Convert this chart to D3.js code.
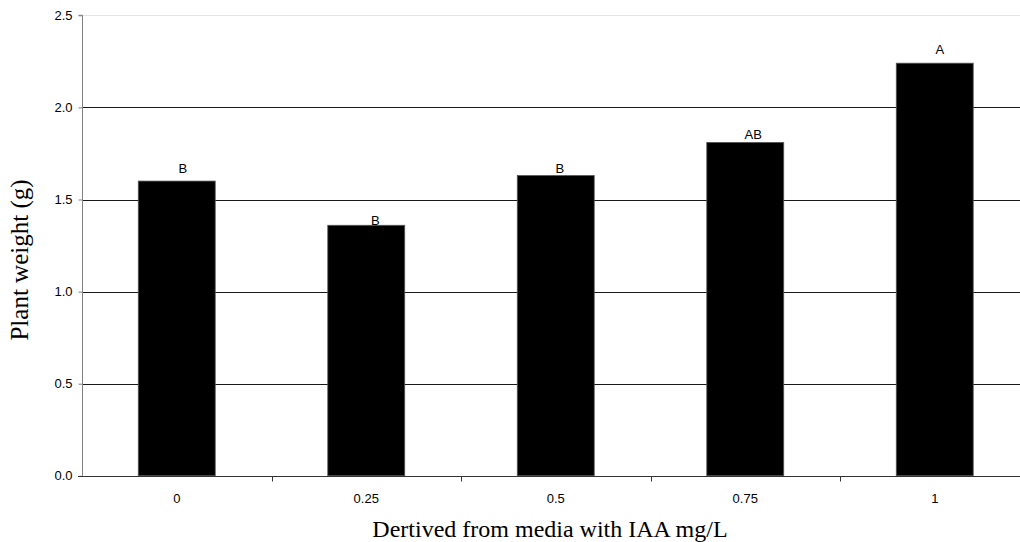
<!DOCTYPE html>
<html>
<head>
<meta charset="utf-8">
<script src="https://cdn.jsdelivr.net/npm/d3@7"></script>
<style>
  html, body { margin: 0; padding: 0; background: #fff; }
  svg { display: block; }
</style>
</head>
<body>
<svg id="chart" width="1020" height="542"></svg>
<script>
// ---- data ----
const categories = ["0", "0.25", "0.5", "0.75", "1"];
const plantWeight = [1.60, 1.36, 1.63, 1.81, 2.24];
const letters = ["B", "B", "B", "AB", "A"];
const yTicks = [0, 0.5, 1.0, 1.5, 2.0, 2.5];
const yTickLabels = ["0.0", "0.5", "1.0", "1.5", "2.0", "2.5"];
const xTitle = "Dertived from media with IAA mg/L";
const yTitle = "Plant weight (g)";

// ---- layout (not data) ----
const letterNudge = [[6, -8], [9, 0], [4, -3], [8, -3], [5, -9]];

(function () {
const svg = d3.select("#chart");
const W = 1020;
const plotLeft = 82, plotTop = 15.3, plotBottom = 475.8;
const sans = "'Liberation Sans', Arial, sans-serif";
const serif = "'Liberation Serif', 'Times New Roman', serif";

const y = d3.scaleLinear().domain([0, 2.5]).range([plotBottom, plotTop]);
const x = d3.scaleBand().domain(categories).range([plotLeft, 1029.5])
  .paddingInner(0.594).paddingOuter(0.297);

// top border line (light)
svg.append("line")
  .attr("x1", plotLeft).attr("x2", W)
  .attr("y1", Math.round(y(2.5)) + 0.5).attr("y2", Math.round(y(2.5)) + 0.5)
  .attr("stroke", "#e4e4e4").attr("stroke-width", 1);

// gridlines
svg.append("g").selectAll("line")
  .data(yTicks.filter(t => t > 0 && t < 2.5))
  .join("line")
  .attr("x1", plotLeft).attr("x2", W)
  .attr("y1", d => Math.round(y(d)) + 0.5)
  .attr("y2", d => Math.round(y(d)) + 0.5)
  .attr("stroke", "#1a1a1a").attr("stroke-width", 1);

// bars
svg.append("g").selectAll("rect")
  .data(plantWeight)
  .join("rect")
  .attr("x", (d, i) => x(categories[i]))
  .attr("y", d => y(d))
  .attr("width", x.bandwidth())
  .attr("height", d => y(0) - y(d))
  .attr("fill", "#000")
  .attr("stroke", "#555")
  .attr("stroke-width", 0.8);

// letters
svg.append("g").selectAll("text")
  .data(letters)
  .join("text")
  .attr("x", (d, i) => x(categories[i]) + x.bandwidth() / 2 + letterNudge[i][0])
  .attr("y", (d, i) => y(plantWeight[i]) + letterNudge[i][1])
  .attr("text-anchor", "middle")
  .attr("font-family", sans)
  .attr("font-size", 13)
  .attr("fill", "#000")
  .text(d => d);

// y axis
const yAxis = d3.axisLeft(y).tickValues(yTicks)
  .tickFormat((d, i) => yTickLabels[i]).tickSize(4).tickPadding(6);
const gy = svg.append("g").attr("transform", `translate(${plotLeft + 0.5},0)`).call(yAxis);
gy.select(".domain").attr("stroke", "#808080").attr("d", `M-4,${y(2.5)}H0V${y(0)}`);
gy.selectAll(".tick line").attr("stroke", "#808080");
gy.selectAll(".tick text")
  .attr("font-family", sans)
  .attr("font-size", 13).attr("fill", "#000");

// x axis
const gx = svg.append("g").attr("transform", `translate(0,${Math.round(plotBottom) + 0.5})`);
gx.append("line").attr("x1", plotLeft - 4).attr("x2", W)
  .attr("stroke", "#333").attr("stroke-width", 1);
const boundaries = categories.slice(1).map(c => x(c) - x.step() * x.paddingInner() / 2);
gx.selectAll(".xt").data(boundaries).join("line")
  .attr("class", "xt")
  .attr("x1", d => Math.round(d) + 0.5).attr("x2", d => Math.round(d) + 0.5)
  .attr("y1", 0).attr("y2", 5)
  .attr("stroke", "#333");
gx.selectAll(".xl").data(categories).join("text")
  .attr("class", "xl")
  .attr("x", d => x(d) + x.bandwidth() / 2)
  .attr("y", 26)
  .attr("text-anchor", "middle")
  .attr("font-family", sans)
  .attr("font-size", 13).attr("fill", "#000")
  .text(d => d);

// titles
svg.append("text")
  .attr("x", 550).attr("y", 537)
  .attr("text-anchor", "middle")
  .attr("font-family", serif)
  .attr("font-size", 24).attr("fill", "#000")
  .text(xTitle);

svg.append("text")
  .attr("transform", "translate(28,260) rotate(-90)")
  .attr("text-anchor", "middle")
  .attr("font-family", serif)
  .attr("font-size", 25).attr("fill", "#000")
  .text(yTitle);
})();
</script>
</body>
</html>
